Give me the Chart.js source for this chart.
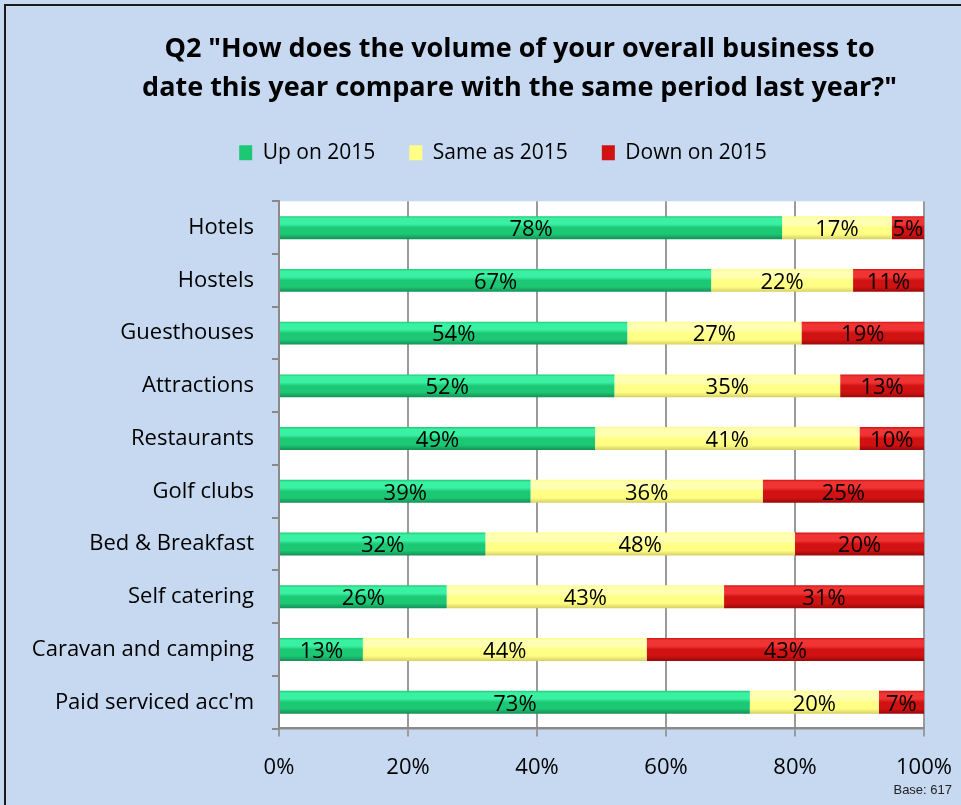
<!DOCTYPE html>
<html>
<head>
<meta charset="utf-8">
<script src="https://cdn.jsdelivr.net/npm/chart.js@4"></script>
<style>
  html, body { margin: 0; padding: 0; background: #C6D9F1; }
  #wrap { width: 961px; height: 805px; position: relative; }
</style>
</head>
<body>
<div id="wrap"><canvas id="thisChartRightHere" width="961" height="805"></canvas></div>
<script>
const categories = ["Hotels", "Hostels", "Guesthouses", "Attractions", "Restaurants",
    "Golf clubs", "Bed & Breakfast", "Self catering", "Caravan and camping", "Paid serviced acc'm"];
const upOn2015 = [78, 67, 54, 52, 49, 39, 32, 26, 13, 73];
const sameAs2015 = [17, 22, 27, 35, 41, 36, 48, 43, 44, 20];
const downOn2015 = [5, 11, 19, 13, 10, 25, 20, 31, 43, 7];
const xTicks = [0, 20, 40, 60, 80, 100];

const FONT = "'Open Sans', Lato, sans-serif";

// vertical shading on each bar, like the old excel 3d look
function shade(top, mid, bottom, flat) {
    return function (c) {
        const y = c.chart.scales.y;
        if (c.dataIndex === undefined || !y) return flat;
        const cy = y.getPixelForValue(c.dataIndex);
        if (!isFinite(cy)) return flat;
        const g = c.chart.ctx.createLinearGradient(0, cy - 11.5, 0, cy + 11.5);
        g.addColorStop(0, mid);
        g.addColorStop(0.1, top);
        g.addColorStop(0.35, top);
        g.addColorStop(0.5, mid);
        g.addColorStop(0.78, mid);
        g.addColorStop(1, bottom);
        return g;
    };
}

const frame = {
    id: 'frame',
    afterLayout(chart) {
        // excel centres title/legend a bit right of the canvas centre
        chart.titleBlock.left += 100;
        chart.legend.left += 67;
    },
    beforeDraw(chart) {
        const ctx = chart.ctx, a = chart.chartArea;
        ctx.save();
        ctx.fillStyle = '#C6D9F1';
        ctx.fillRect(0, 0, chart.width, chart.height);
        ctx.strokeStyle = '#1a1a1a';
        ctx.lineWidth = 2;
        ctx.strokeRect(5, 5, chart.width + 20, chart.height + 20);
        ctx.fillStyle = '#ffffff';
        ctx.fillRect(a.left, a.top, a.right - a.left, a.bottom - a.top);
        ctx.restore();
    },
    afterDraw(chart) {
        const ctx = chart.ctx;
        ctx.save();
        ctx.fillStyle = '#222';
        ctx.font = "13px 'Liberation Sans', Arial, sans-serif";
        ctx.textAlign = 'right';
        ctx.textBaseline = 'middle';
        ctx.fillText('Base: 617', 952, 790);
        ctx.restore();
    }
};

const barLabels = {
    id: 'barLabels',
    afterDatasetsDraw(chart) {
        const ctx = chart.ctx;
        ctx.save();
        ctx.font = "22px " + FONT;
        ctx.fillStyle = '#000';
        ctx.textAlign = 'center';
        ctx.textBaseline = 'middle';
        chart.data.datasets.forEach((ds, i) => {
            chart.getDatasetMeta(i).data.forEach((bar, j) => {
                ctx.fillText(ds.data[j] + '%', (bar.x + bar.base) / 2, bar.y + 2);
            });
        });
        ctx.restore();
    }
};

const ctx = document.getElementById('thisChartRightHere').getContext('2d');
const myChart = new Chart(ctx, {
    type: 'bar',
    data: {
        labels: categories,
        datasets: [{
            label: 'Up on 2015',
            data: upOn2015,
            xAxisID: 'x',
            backgroundColor: shade('#3AF0A2', '#1CC874', '#138E55', '#1CC874'),
            borderWidth: 0
        }, {
            label: 'Same as 2015',
            data: sameAs2015,
            xAxisID: 'x',
            backgroundColor: shade('#FFFFB4', '#FFFF85', '#D6CE62', '#FFFF80'),
            borderWidth: 0
        }, {
            label: 'Down on 2015',
            data: downOn2015,
            xAxisID: 'x',
            backgroundColor: shade('#F03434', '#D01212', '#980808', '#C80C0C'),
            borderWidth: 0
        }]
    },
    options: {
        indexAxis: 'y',
        responsive: false,
        animation: false,
        barPercentage: 0.435,
        categoryPercentage: 1,
        layout: { padding: { left: 15, right: 37, top: 30, bottom: 6 } },
        plugins: {
            title: {
                display: true,
                text: ['Q2 "How does the volume of your overall business to',
                    'date this year compare with the same period last year?"'],
                color: '#000',
                font: { family: FONT, size: 27, weight: 'bold', lineHeight: 1.45 },
                padding: { top: 0, bottom: 0 }
            },
            legend: {
                labels: {
                    color: '#000',
                    font: { family: FONT, size: 21 },
                    boxWidth: 13,
                    boxHeight: 15,
                    padding: 34
                }
            },
            tooltip: { enabled: false }
        },
        scales: {
            gap: {
                // empty top axis, only there to leave room under the legend
                type: 'linear',
                position: 'top',
                display: true,
                grid: { display: false, drawTicks: false },
                border: { display: false },
                ticks: { display: false },
                afterFit: s => { s.height = 28; }
            },
            x: {
                stacked: true,
                min: 0,
                max: 100,
                afterBuildTicks: s => { s.ticks = xTicks.map(v => ({ value: v })); },
                afterFit: s => { s.paddingRight = 0; s.paddingLeft = 0; },
                ticks: {
                    color: '#000',
                    font: { family: FONT, size: 22 },
                    padding: 18,
                    callback: v => v + '%'
                },
                grid: { color: '#9A9A9A', lineWidth: 2, tickLength: 8 },
                border: { color: '#8A8A8A', width: 2.5 }
            },
            y: {
                stacked: true,
                afterFit: s => { s.width = 279 - 15; },
                ticks: {
                    color: '#000',
                    font: { family: FONT, size: 22 },
                    padding: 18
                },
                grid: { drawOnChartArea: false, color: '#8A8A8A', lineWidth: 2, tickLength: 7 },
                border: { color: '#8A8A8A', width: 2 }
            }
        }
    },
    plugins: [frame, barLabels]
});
</script>
</body>
</html>
